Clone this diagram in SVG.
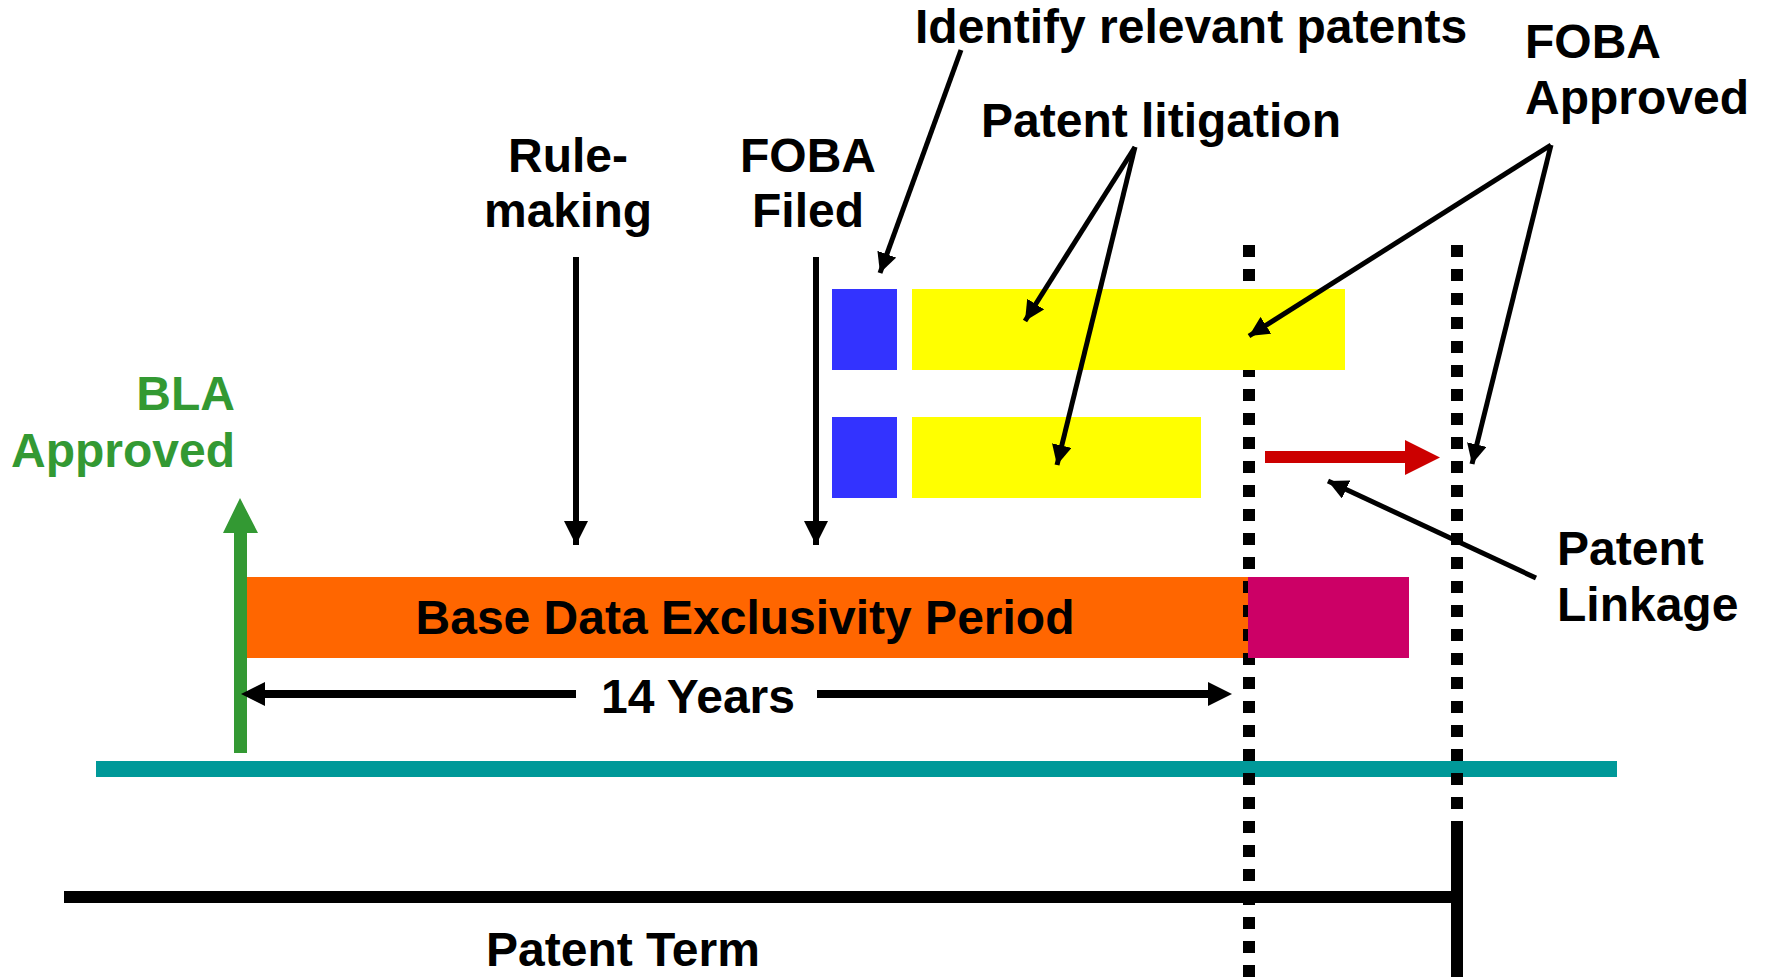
<svg xmlns="http://www.w3.org/2000/svg" width="1765" height="977" viewBox="0 0 1765 977">
<style>
text{font-family:"Liberation Sans",Arial,sans-serif;font-weight:bold;font-size:48px;fill:#000}
.g{fill:#339933}
.dot{stroke:#000;stroke-width:12;stroke-dasharray:12 12;fill:none}
.ar{stroke:#000;stroke-width:5;fill:none;marker-end:url(#ah)}
.va{stroke:#000;stroke-width:6;fill:none;marker-end:url(#vh)}
</style>
<defs>
<marker id="ah" markerUnits="userSpaceOnUse" markerWidth="22" markerHeight="20" refX="20" refY="10" orient="auto">
<path d="M0,0 L20,10 L0,20 Z" fill="#000"/>
</marker>
<marker id="vh" markerUnits="userSpaceOnUse" markerWidth="26" markerHeight="24" refX="24" refY="12" orient="auto">
<path d="M0,0 L24,12 L0,24 Z" fill="#000"/>
</marker>
</defs>
<rect width="1765" height="977" fill="#fff"/>
<g id="exclusivity"><rect x="240" y="577" width="1008" height="81" fill="#FF6600"/></g>
<g id="timeline"><rect x="96" y="761" width="1521" height="16" fill="#009999"/></g>
<g id="patent-term-line"><rect x="64" y="891" width="1393" height="12" fill="#000"/><rect x="1451" y="833" width="12" height="144" fill="#000"/></g>
<g id="dotted-lines">
<line class="dot" x1="1249" y1="245" x2="1249" y2="977"/>
<line class="dot" x1="1457" y1="245" x2="1457" y2="833"/>
</g>
<g id="extension"><rect x="1248" y="577" width="161" height="81" fill="#CC0066"/></g>
<g id="litigation1"><rect x="912" y="289" width="433" height="81" fill="#FFFF00"/></g>
<g id="litigation2"><rect x="912" y="417" width="289" height="81" fill="#FFFF00"/></g>
<g id="identify1"><rect x="832" y="289" width="65" height="81" fill="#3333FF"/></g>
<g id="identify2"><rect x="832" y="417" width="65" height="81" fill="#3333FF"/></g>
<g id="connectors">
<line class="va" x1="576" y1="257" x2="576" y2="545"/>
<line class="va" x1="816" y1="257" x2="816" y2="545"/>
<line class="ar" x1="961" y1="50" x2="880" y2="273"/>
<line class="ar" x1="1135" y1="147" x2="1025" y2="321"/>
<line class="ar" x1="1135" y1="147" x2="1057" y2="465"/>
<line class="ar" x1="1551" y1="145" x2="1249" y2="336"/>
<line class="ar" x1="1551" y1="145" x2="1472" y2="464"/>
<line class="ar" x1="1536" y1="578" x2="1328" y2="481"/>
<polygon points="1265,451 1405,451 1405,440 1440,457.5 1405,475 1405,463 1265,463" fill="#CC0000"/>
<polygon points="234,753 234,533 223,533 240,498 258,533 247,533 247,753" fill="#339933"/>
<line x1="262" y1="694" x2="576" y2="694" stroke="#000" stroke-width="8"/>
<polygon points="241,694 265,682 265,706" fill="#000"/>
<line x1="817" y1="694" x2="1210" y2="694" stroke="#000" stroke-width="8"/>
<polygon points="1232,694 1208,682 1208,706" fill="#000"/>
</g>
<g id="labels">
<text x="915" y="43">Identify relevant patents</text>
<text x="981" y="137">Patent litigation</text>
<text x="568" y="172" text-anchor="middle">Rule-</text>
<text x="568" y="227" text-anchor="middle">making</text>
<text x="808" y="172" text-anchor="middle">FOBA</text>
<text x="808" y="227" text-anchor="middle">Filed</text>
<text x="1525" y="58">FOBA</text>
<text x="1525" y="114">Approved</text>
<text class="g" x="235" y="410" text-anchor="end">BLA</text>
<text class="g" x="235" y="467" text-anchor="end">Approved</text>
<text x="745" y="634" text-anchor="middle">Base Data Exclusivity Period</text>
<text x="698" y="713" text-anchor="middle">14 Years</text>
<text x="1557" y="565">Patent</text>
<text x="1557" y="621">Linkage</text>
<text x="486" y="966">Patent Term</text>
</g>
</svg>
